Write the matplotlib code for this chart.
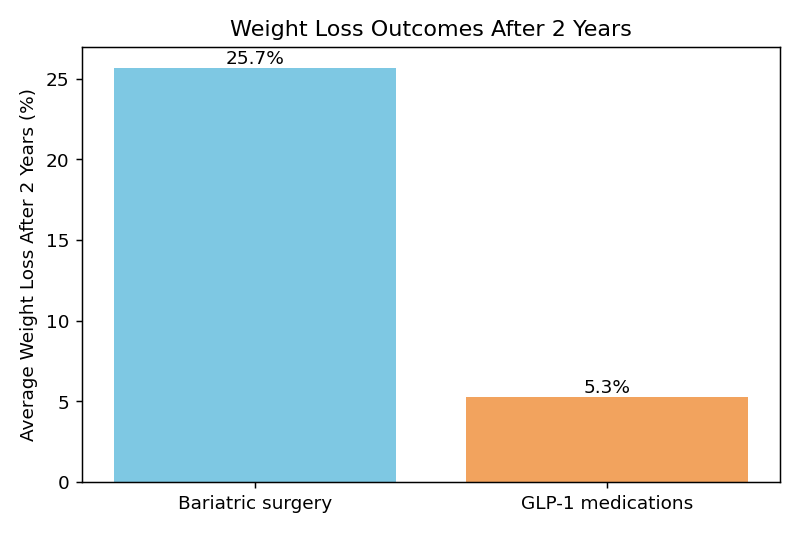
import matplotlib
matplotlib.use("Agg")
import matplotlib.pyplot as plt

## data
categories = ["Bariatric surgery", "GLP-1 medications"]
weight_loss = [25.7, 5.3]
bar_colors = ["#7EC8E3", "#F2A35E"]

fig, ax = plt.subplots(figsize=(6, 4), dpi=133.33)

bars = ax.bar(categories, weight_loss, color=bar_colors)

## value labels on top of each bar
for bar, val in zip(bars, weight_loss):
    ax.text(bar.get_x() + bar.get_width() / 2, bar.get_height(), f"{val}%",
            ha="center", va="bottom")

ax.set_title("Weight Loss Outcomes After 2 Years")
ax.set_ylabel("Average Weight Loss After 2 Years (%)")

plt.tight_layout()
plt.savefig("out.png", dpi=133.33)
